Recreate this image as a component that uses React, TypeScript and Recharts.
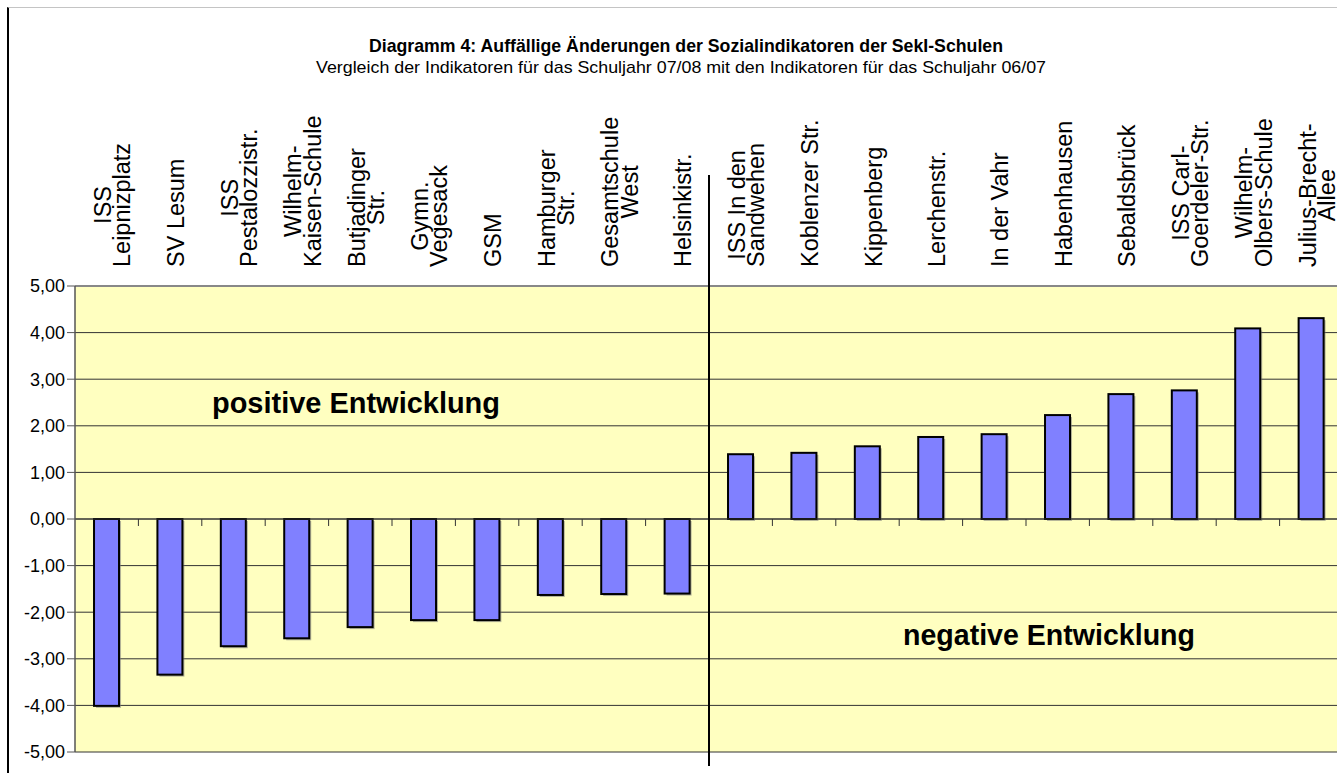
import React from "react";
import { BarChart, Bar, XAxis, YAxis, CartesianGrid, ReferenceLine } from "recharts";

// schools (line breaks as in the original label)
const schools = [
  "ISS\nLeipnizplatz",
  "SV Lesum",
  "ISS\nPestalozzistr.",
  "Wilhelm-\nKaisen-Schule",
  "Butjadinger\nStr.",
  "Gymn.\nVegesack",
  "GSM",
  "Hamburger\nStr.",
  "Gesamtschule\nWest",
  "Helsinkistr.",
  "ISS In den\nSandwehen",
  "Koblenzer Str.",
  "Kippenberg",
  "Lerchenstr.",
  "In der Vahr",
  "Habenhausen",
  "Sebaldsbrück",
  "ISS Carl-\nGoerdeler-Str.",
  "Wilhelm-\nOlbers-Schule",
  "Julius-Brecht-\nAllee",
];

// change of the social indicator 07/08 vs 06/07
const changes = [
  -4.01, -3.34, -2.73, -2.56, -2.32, -2.17, -2.17, -1.63, -1.61, -1.6,
  1.39, 1.42, 1.56, 1.76, 1.82, 2.23, 2.68, 2.76, 4.09, 4.31,
];

const yTicks = [-5, -4, -3, -2, -1, 0, 1, 2, 3, 4, 5];

const title = "Diagramm 4: Auffällige Änderungen der Sozialindikatoren der SekI-Schulen";
const subtitle =
  "Vergleich der Indikatoren für das Schuljahr 07/08 mit den Indikatoren für das Schuljahr 06/07";

const data = schools.map((name, i) => ({ name, value: changes[i] }));

const FONT = "'Liberation Sans', Arial, Helvetica, sans-serif";
const LABEL_SIZE = 23.5;

let ctx: CanvasRenderingContext2D | null = null;
const measure = (s: string) => {
  if (!ctx) ctx = document.createElement("canvas").getContext("2d");
  if (!ctx) return s.length * LABEL_SIZE * 0.5;
  ctx.font = `${LABEL_SIZE}px ${FONT}`;
  return ctx.measureText(s).width;
};

// rotated, multi-line category label; longest line ends just above the plot
const SchoolTick = (props: any) => {
  const { x, payload } = props;
  const lines = String(payload.value).split("\n");
  const maxW = Math.max(...lines.map(measure));
  const cy = 267 - maxW / 2;
  return (
    <g>
      {lines.map((l, i) => {
        const bx = x + 14 + (i - (lines.length - 1) / 2) * 19.3;
        return (
          <text
            key={i}
            transform={`translate(${bx},${cy}) rotate(-90)`}
            textAnchor="middle"
            fontSize={LABEL_SIZE}
            fontFamily={FONT}
            fill="#000"
          >
            {l}
          </text>
        );
      })}
    </g>
  );
};

// excel style bar with a small grey drop shadow
const ShadowBar = (props: any) => {
  const { x, y, width, height } = props;
  const top = height < 0 ? y + height : y;
  const h = Math.abs(height);
  return (
    <g>
      <rect x={x + 2} y={top + 2} width={width} height={h} fill="#7a7a7a" fillOpacity={0.55} />
      <rect x={x} y={top} width={width} height={h} fill="#8080FF" stroke="#000" strokeWidth={2} />
    </g>
  );
};

const App = () => {
  return (
    <div
      style={{
        position: "fixed",
        left: 0,
        top: 0,
        width: 1337,
        height: 773,
        overflow: "hidden",
        background: "#fff",
      }}
    >
      <div
        style={{
          position: "absolute",
          left: 7,
          top: 7,
          width: 1400,
          height: 800,
          borderLeft: "2px solid #000",
          borderTop: "1px solid #c4c4c4",
        }}
      />
      <div style={{ position: "absolute", left: 0, top: 0 }}>
        <BarChart
          width={1360}
          height={800}
          data={data}
          margin={{ top: 100, right: 17, bottom: 48, left: 0 }}
          barCategoryGap="30%"
        >
          <CartesianGrid
            vertical={false}
            stroke="#333"
            fill="#FFFFC0"
            fillOpacity={1}
          />
          <XAxis
            dataKey="name"
            orientation="top"
            height={186}
            interval={0}
            axisLine={false}
            tickLine={false}
            tick={<SchoolTick />}
          />
          <YAxis
            domain={[-5, 5]}
            ticks={yTicks}
            interval={0}
            width={75}
            tickSize={8}
            tickMargin={2}
            allowDataOverflow
            tickFormatter={(v: number) => v.toFixed(2).replace(".", ",")}
            tick={{ fontSize: 18, fill: "#000", fontFamily: FONT }}
            axisLine={{ stroke: "#555", strokeWidth: 1.5 }}
            tickLine={{ stroke: "#555" }}
          />
          <ReferenceLine y={5} stroke="#888" strokeWidth={2} />
          <ReferenceLine y={0} stroke="#333" />
          <Bar
            dataKey="value"
            fill="#8080FF"
            stroke="#000"
            strokeWidth={2}
            shape={<ShadowBar />}
            isAnimationActive={false}
          />
          {schools.slice(1).map((s) => (
            <ReferenceLine
              key={s}
              position="start"
              segment={[
                { x: s, y: 0 },
                { x: s, y: -0.15 },
              ]}
              stroke="#333"
              ifOverflow="visible"
            />
          ))}
          <ReferenceLine
            position="start"
            segment={[
              { x: schools[10], y: 7.38 },
              { x: schools[10], y: -5.3 },
            ]}
            stroke="#000"
            strokeWidth={2}
            ifOverflow="visible"
          />
        </BarChart>
      </div>
      <svg
        width={1337}
        height={773}
        style={{ position: "absolute", left: 0, top: 0, pointerEvents: "none" }}
        fontFamily={FONT}
      >
        <text
          x={686}
          y={52}
          textAnchor="middle"
          fontSize={19}
          fontWeight="bold"
          textLength={634}
          lengthAdjust="spacingAndGlyphs"
        >
          {title}
        </text>
        <text
          x={681}
          y={73}
          textAnchor="middle"
          fontSize={17}
          textLength={730}
          lengthAdjust="spacingAndGlyphs"
        >
          {subtitle}
        </text>
        <text x={212} y={413} fontSize={29} fontWeight="bold" textLength={288} lengthAdjust="spacingAndGlyphs">
          positive Entwicklung
        </text>
        <text x={903} y={645} fontSize={29} fontWeight="bold" textLength={292} lengthAdjust="spacingAndGlyphs">
          negative Entwicklung
        </text>
      </svg>
    </div>
  );
};

export default App;
